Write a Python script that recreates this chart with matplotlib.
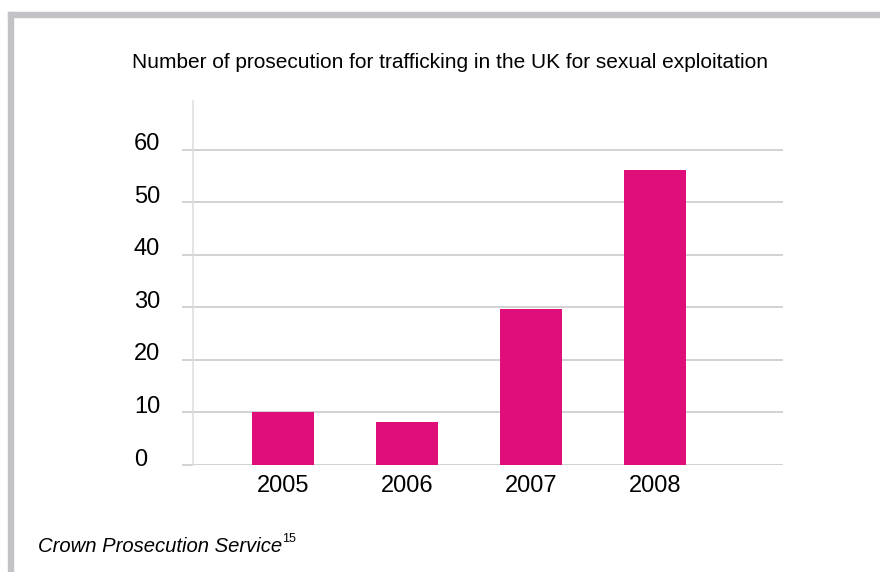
import matplotlib
matplotlib.use("Agg")
import matplotlib.pyplot as plt
from matplotlib.patches import Rectangle
from matplotlib.transforms import ScaledTranslation

years = ["2005", "2006", "2007", "2008"]
prosecutions = [10.1, 8.2, 29.7, 56.2]
y_ticks = [0, 10, 20, 30, 40, 50, 60]

title = "Number of prosecution for trafficking in the UK for sexual exploitation"
source = "Crown Prosecution Service"
source_note = "15"

plt.rcParams["font.family"] = ["Liberation Sans", "DejaVu Sans"]

bar_color = "#e00e7a"
grid_color = "#c6c6ca"

fig = plt.figure(figsize=(8.8, 5.72), dpi=100)
ax = fig.add_axes([193 / 880, 1 - 465 / 572, 590 / 880, 364 / 572])

# gray frame on top and left
fig.patches.append(Rectangle((8 / 880, 0), 5 / 880, 1 - 12 / 572, transform=fig.transFigure,
                             color="#c3c3c7", zorder=0))
fig.patches.append(Rectangle((8 / 880, 1 - 17 / 572), 1, 5 / 572, transform=fig.transFigure,
                             color="#c3c3c7", zorder=0))

x = range(len(years))
ax.bar(x, prosecutions, width=0.5, color=bar_color, zorder=3)

ax.set_xlim(-0.73, 4.03)
ax.set_ylim(0, 69.3)
ax.set_xticks(list(x))
ax.set_xticklabels(years, fontsize=17)
ax.set_yticks(y_ticks)
ax.set_yticklabels([str(v) for v in y_ticks], fontsize=17)

ax.yaxis.grid(True, color=grid_color, linewidth=1.1, zorder=0)
ax.xaxis.grid(False)
for side in ["top", "right", "bottom"]:
    ax.spines[side].set_visible(False)
ax.spines["left"].set_color("#dcdce0")
ax.spines["left"].set_linewidth(1.1)

ax.tick_params(axis="x", length=0, pad=7)
ax.tick_params(axis="y", length=7.9, width=1.1, color=grid_color, pad=34.6)
for lab in ax.get_yticklabels():
    lab.set_horizontalalignment("left")
    lab.set_transform(lab.get_transform() + ScaledTranslation(0, 8 / 100, fig.dpi_scale_trans))

fig.text(450 / 880, 1 - 63 / 572, title, ha="center", va="center", fontsize=15)

src = fig.text(38 / 880, 1 - 547 / 572, source, ha="left", va="center",
               fontsize=14.6, style="italic")
fig.canvas.draw()
ax.annotate(source_note, xy=(1, 0.6), xycoords=src, ha="left", va="bottom",
            fontsize=9, annotation_clip=False)

fig.savefig("out.png", dpi=100, facecolor="white")
